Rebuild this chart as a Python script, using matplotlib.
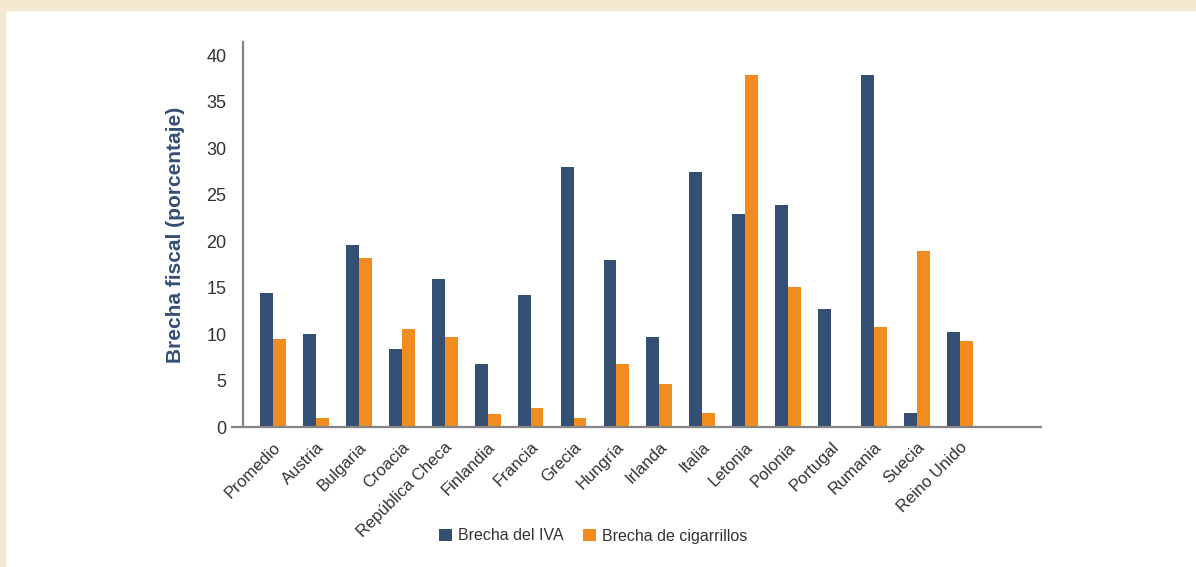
import matplotlib.pyplot as plt
import matplotlib.patches as mpatches
import numpy as np

plt.rcParams['font.family'] = ['Liberation Sans', 'DejaVu Sans']

# Datos
paises = ['Promedio', 'Austria', 'Bulgaria', 'Croacia', 'República Checa',
          'Finlandia', 'Francia', 'Grecia', 'Hungría', 'Irlanda', 'Italia',
          'Letonia', 'Polonia', 'Portugal', 'Rumania', 'Suecia', 'Reino Unido']
brecha_iva = [14.4, 10.0, 19.6, 8.4, 15.9, 6.8, 14.2, 28.0, 18.0, 9.7, 27.4,
              22.9, 23.9, 12.7, 37.8, 1.5, 10.2]
brecha_cig = [9.5, 1.0, 18.2, 10.5, 9.7, 1.4, 2.0, 1.0, 6.8, 4.6, 1.5,
              37.9, 15.1, 0.0, 10.7, 18.9, 9.3]

azul = '#344f74'
naranja = '#f28c1f'
texto = '#333333'
gris = '#858585'
fondo = '#f4e8d1'

fig = plt.figure(figsize=(11.96, 5.67), dpi=100, facecolor='white')

# borde beige arriba e izquierda
fig.patches.append(mpatches.Rectangle((0, 1 - 10 / 567), 1, 10 / 567,
                                      transform=fig.transFigure, color=fondo, zorder=0))
fig.patches.append(mpatches.Rectangle((0, 0), 5 / 1196, 1,
                                      transform=fig.transFigure, color=fondo, zorder=0))

ax = fig.add_axes([232 / 1196, 140 / 567, (1041 - 232) / 1196, (427 - 42) / 567])
ax.set_facecolor('none')

x = np.arange(len(paises))
w = 0.30
ax.bar(x - w / 2, brecha_iva, w, color=azul, label='Brecha del IVA', zorder=2)
ax.bar(x + w / 2, brecha_cig, w, color=naranja, label='Brecha de cigarrillos', zorder=2)

ax.set_xlim(-0.955, 17.89)
ax.set_ylim(0, 41.4)

ax.set_yticks(np.arange(0, 41, 5))
ax.set_xticks(x)
ax.set_xticklabels(paises, rotation=45, ha='right', rotation_mode='anchor',
                   fontsize=12, color=texto)
ax.tick_params(axis='x', length=0, pad=9)
ax.tick_params(axis='y', length=0, pad=12, labelsize=13, labelcolor=texto)

for s in ['top', 'right']:
    ax.spines[s].set_visible(False)
ax.spines['left'].set_position(('data', -0.70))
ax.spines['left'].set_color(gris)
ax.spines['left'].set_linewidth(1.6)
ax.spines['bottom'].set_color(gris)
ax.spines['bottom'].set_linewidth(1.6)
ax.spines['left'].set_zorder(3)
ax.spines['bottom'].set_zorder(3)

fig.text(175 / 1196, 1 - 235 / 567, 'Brecha fiscal (porcentaje)', rotation=90,
         ha='center', va='center', fontsize=15, fontweight='bold', color=azul)

fig.legend(loc='center', bbox_to_anchor=(593 / 1196, 1 - 536 / 567), ncol=2,
           frameon=False, fontsize=11.5, handlelength=0.8, handleheight=0.8,
           handletextpad=0.4, columnspacing=1.2, labelcolor=texto)

fig.savefig('out.png', dpi=100, facecolor='white')
